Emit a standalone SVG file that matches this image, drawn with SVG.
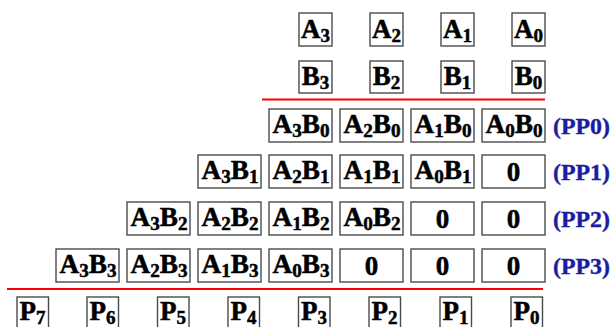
<svg xmlns="http://www.w3.org/2000/svg" width="612" height="327" viewBox="0 0 612 327">
<style>
.b{fill:#fff;stroke:#4a4a4a;stroke-width:1.4}
.t{font-family:"Liberation Serif","Times New Roman",serif;font-weight:bold;font-size:27px;fill:#000;stroke:#000;stroke-width:0.5;text-anchor:middle}
.s{font-size:19px}
.lbl{font-family:"Liberation Serif","Times New Roman",serif;font-weight:bold;font-size:24px;fill:#1c1ca2;stroke:#1c1ca2;stroke-width:0.4}
.rl{stroke:#f00;stroke-width:2;fill:none}
</style>
<rect width="612" height="327" fill="#fff"/>
<g id="inputs">
<g id="A3"><rect class="b" x="299" y="13" width="33" height="33"/><text class="t" x="315.5" y="37.5">A<tspan class="s" dy="4">3</tspan></text></g>
<g id="A2"><rect class="b" x="370" y="13" width="33" height="33"/><text class="t" x="386.5" y="37.5">A<tspan class="s" dy="4">2</tspan></text></g>
<g id="A1"><rect class="b" x="441" y="13" width="33" height="33"/><text class="t" x="457.5" y="37.5">A<tspan class="s" dy="4">1</tspan></text></g>
<g id="A0"><rect class="b" x="512" y="13" width="33" height="33"/><text class="t" x="528.5" y="37.5">A<tspan class="s" dy="4">0</tspan></text></g>
<g id="B3"><rect class="b" x="299" y="61" width="33" height="32"/><text class="t" x="315.5" y="84.5">B<tspan class="s" dy="4">3</tspan></text></g>
<g id="B2"><rect class="b" x="370" y="61" width="33" height="32"/><text class="t" x="386.5" y="84.5">B<tspan class="s" dy="4">2</tspan></text></g>
<g id="B1"><rect class="b" x="441" y="61" width="33" height="32"/><text class="t" x="457.5" y="84.5">B<tspan class="s" dy="4">1</tspan></text></g>
<g id="B0"><rect class="b" x="512" y="61" width="33" height="32"/><text class="t" x="528.5" y="84.5">B<tspan class="s" dy="4">0</tspan></text></g>
</g>
<g id="lines">
<line class="rl" x1="262" y1="99.5" x2="545" y2="99.5"/>
<line class="rl" x1="7" y1="289" x2="543" y2="289"/>
</g>
<g id="pp0">
<g id="A3B0"><rect class="b" x="269" y="109" width="63" height="33"/><text class="t" x="301" y="132.5" textLength="57" lengthAdjust="spacingAndGlyphs">A<tspan class="s" dy="4">3</tspan><tspan dy="-4">B</tspan><tspan class="s" dy="4">0</tspan></text></g>
<g id="A2B0"><rect class="b" x="340" y="109" width="63" height="33"/><text class="t" x="372" y="132.5" textLength="57" lengthAdjust="spacingAndGlyphs">A<tspan class="s" dy="4">2</tspan><tspan dy="-4">B</tspan><tspan class="s" dy="4">0</tspan></text></g>
<g id="A1B0"><rect class="b" x="411" y="109" width="63" height="33"/><text class="t" x="443" y="132.5" textLength="57" lengthAdjust="spacingAndGlyphs">A<tspan class="s" dy="4">1</tspan><tspan dy="-4">B</tspan><tspan class="s" dy="4">0</tspan></text></g>
<g id="A0B0"><rect class="b" x="482" y="109" width="63" height="33"/><text class="t" x="514" y="132.5" textLength="57" lengthAdjust="spacingAndGlyphs">A<tspan class="s" dy="4">0</tspan><tspan dy="-4">B</tspan><tspan class="s" dy="4">0</tspan></text></g>
<text class="lbl" x="553" y="133.5" textLength="57" lengthAdjust="spacingAndGlyphs">(PP0)</text>
</g>
<g id="pp1">
<g id="A3B1"><rect class="b" x="198" y="155" width="63" height="33"/><text class="t" x="230" y="178.5" textLength="57" lengthAdjust="spacingAndGlyphs">A<tspan class="s" dy="4">3</tspan><tspan dy="-4">B</tspan><tspan class="s" dy="4">1</tspan></text></g>
<g id="A2B1"><rect class="b" x="269" y="155" width="63" height="33"/><text class="t" x="301" y="178.5" textLength="57" lengthAdjust="spacingAndGlyphs">A<tspan class="s" dy="4">2</tspan><tspan dy="-4">B</tspan><tspan class="s" dy="4">1</tspan></text></g>
<g id="A1B1"><rect class="b" x="340" y="155" width="63" height="33"/><text class="t" x="372" y="178.5" textLength="57" lengthAdjust="spacingAndGlyphs">A<tspan class="s" dy="4">1</tspan><tspan dy="-4">B</tspan><tspan class="s" dy="4">1</tspan></text></g>
<g id="A0B1"><rect class="b" x="411" y="155" width="63" height="33"/><text class="t" x="443" y="178.5" textLength="57" lengthAdjust="spacingAndGlyphs">A<tspan class="s" dy="4">0</tspan><tspan dy="-4">B</tspan><tspan class="s" dy="4">1</tspan></text></g>
<g id="Z10"><rect class="b" x="482" y="155" width="63" height="33"/><text class="t" x="513.5" y="181">0</text></g>
<text class="lbl" x="553" y="179.5" textLength="57" lengthAdjust="spacingAndGlyphs">(PP1)</text>
</g>
<g id="pp2">
<g id="A3B2"><rect class="b" x="127" y="202" width="63" height="33"/><text class="t" x="159" y="225.5" textLength="57" lengthAdjust="spacingAndGlyphs">A<tspan class="s" dy="4">3</tspan><tspan dy="-4">B</tspan><tspan class="s" dy="4">2</tspan></text></g>
<g id="A2B2"><rect class="b" x="198" y="202" width="63" height="33"/><text class="t" x="230" y="225.5" textLength="57" lengthAdjust="spacingAndGlyphs">A<tspan class="s" dy="4">2</tspan><tspan dy="-4">B</tspan><tspan class="s" dy="4">2</tspan></text></g>
<g id="A1B2"><rect class="b" x="269" y="202" width="63" height="33"/><text class="t" x="301" y="225.5" textLength="57" lengthAdjust="spacingAndGlyphs">A<tspan class="s" dy="4">1</tspan><tspan dy="-4">B</tspan><tspan class="s" dy="4">2</tspan></text></g>
<g id="A0B2"><rect class="b" x="340" y="202" width="63" height="33"/><text class="t" x="372" y="225.5" textLength="57" lengthAdjust="spacingAndGlyphs">A<tspan class="s" dy="4">0</tspan><tspan dy="-4">B</tspan><tspan class="s" dy="4">2</tspan></text></g>
<g id="Z21"><rect class="b" x="411" y="202" width="63" height="33"/><text class="t" x="442.5" y="228">0</text></g>
<g id="Z20"><rect class="b" x="482" y="202" width="63" height="33"/><text class="t" x="513.5" y="228">0</text></g>
<text class="lbl" x="553" y="226.5" textLength="57" lengthAdjust="spacingAndGlyphs">(PP2)</text>
</g>
<g id="pp3">
<g id="A3B3"><rect class="b" x="56" y="249" width="63" height="33"/><text class="t" x="88" y="272.5" textLength="57" lengthAdjust="spacingAndGlyphs">A<tspan class="s" dy="4">3</tspan><tspan dy="-4">B</tspan><tspan class="s" dy="4">3</tspan></text></g>
<g id="A2B3"><rect class="b" x="127" y="249" width="63" height="33"/><text class="t" x="159" y="272.5" textLength="57" lengthAdjust="spacingAndGlyphs">A<tspan class="s" dy="4">2</tspan><tspan dy="-4">B</tspan><tspan class="s" dy="4">3</tspan></text></g>
<g id="A1B3"><rect class="b" x="198" y="249" width="63" height="33"/><text class="t" x="230" y="272.5" textLength="57" lengthAdjust="spacingAndGlyphs">A<tspan class="s" dy="4">1</tspan><tspan dy="-4">B</tspan><tspan class="s" dy="4">3</tspan></text></g>
<g id="A0B3"><rect class="b" x="269" y="249" width="63" height="33"/><text class="t" x="301" y="272.5" textLength="57" lengthAdjust="spacingAndGlyphs">A<tspan class="s" dy="4">0</tspan><tspan dy="-4">B</tspan><tspan class="s" dy="4">3</tspan></text></g>
<g id="Z32"><rect class="b" x="340" y="249" width="63" height="33"/><text class="t" x="371.5" y="275">0</text></g>
<g id="Z31"><rect class="b" x="411" y="249" width="63" height="33"/><text class="t" x="442.5" y="275">0</text></g>
<g id="Z30"><rect class="b" x="482" y="249" width="63" height="33"/><text class="t" x="513.5" y="275">0</text></g>
<text class="lbl" x="553" y="273.5" textLength="57" lengthAdjust="spacingAndGlyphs">(PP3)</text>
</g>
<g id="products">
<g id="P7"><rect class="b" x="17" y="297" width="31.5" height="34"/><text class="t" x="32.5" y="319.5">P<tspan class="s" dy="4">7</tspan></text></g>
<g id="P6"><rect class="b" x="87" y="297" width="31.5" height="34"/><text class="t" x="102.5" y="319.5">P<tspan class="s" dy="4">6</tspan></text></g>
<g id="P5"><rect class="b" x="157.5" y="297" width="31.5" height="34"/><text class="t" x="173" y="319.5">P<tspan class="s" dy="4">5</tspan></text></g>
<g id="P4"><rect class="b" x="228" y="297" width="31.5" height="34"/><text class="t" x="243.5" y="319.5">P<tspan class="s" dy="4">4</tspan></text></g>
<g id="P3"><rect class="b" x="298.5" y="297" width="31.5" height="34"/><text class="t" x="314" y="319.5">P<tspan class="s" dy="4">3</tspan></text></g>
<g id="P2"><rect class="b" x="369" y="297" width="31.5" height="34"/><text class="t" x="384.5" y="319.5">P<tspan class="s" dy="4">2</tspan></text></g>
<g id="P1"><rect class="b" x="440" y="297" width="31.5" height="34"/><text class="t" x="455.5" y="319.5">P<tspan class="s" dy="4">1</tspan></text></g>
<g id="P0"><rect class="b" x="511" y="297" width="31.5" height="34"/><text class="t" x="526.5" y="319.5">P<tspan class="s" dy="4">0</tspan></text></g>
</g>
</svg>
